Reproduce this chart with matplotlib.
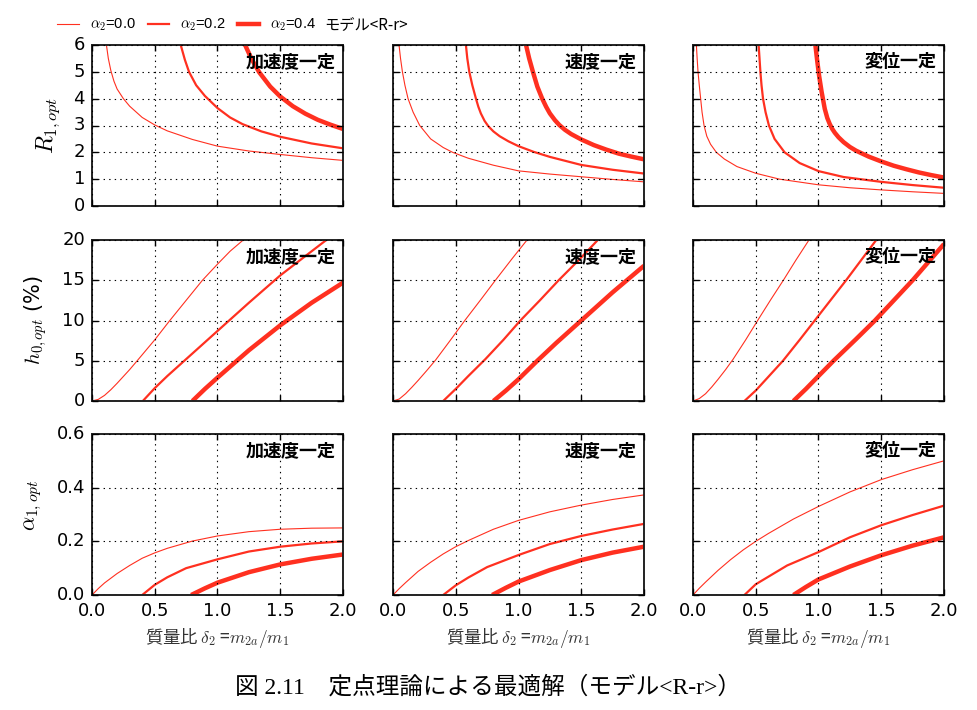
import matplotlib
matplotlib.use('Agg')
import matplotlib.pyplot as plt
from matplotlib.lines import Line2D

plt.style.use('classic')
plt.rcParams['font.family'] = ['DejaVu Sans', 'Noto Sans CJK JP']
plt.rcParams['mathtext.fontset'] = 'cm'
plt.rcParams['figure.facecolor'] = 'white'
plt.rcParams['savefig.facecolor'] = 'white'

# ---------------- data ----------------
conditions = ['加速度一定', '速度一定', '変位一定']
alpha2_labels = [r'$\alpha_2$=0.0', r'$\alpha_2$=0.2', r'$\alpha_2$=0.4']
x_ticks = [0.0, 0.5, 1.0, 1.5, 2.0]

# Row 1: R_{1,opt}
R_acc_a0_x = [0.115, 0.13, 0.15, 0.175, 0.2, 0.25, 0.3, 0.4, 0.5, 0.6, 0.8, 1.0, 1.25, 1.5, 1.75, 2.0]
R_acc_a0_y = [6.0, 5.5, 5.05, 4.65, 4.36, 4.0, 3.72, 3.3, 3.02, 2.8, 2.48, 2.23, 2.05, 1.92, 1.8, 1.7]
R_acc_a2_x = [0.707, 0.74, 0.773, 0.83, 0.9, 1.0, 1.1, 1.2, 1.35, 1.5, 1.75, 2.0]
R_acc_a2_y = [6.0, 5.45, 5.0, 4.5, 4.1, 3.65, 3.3, 3.05, 2.78, 2.58, 2.33, 2.15]
R_acc_a4_x = [1.22, 1.27, 1.333, 1.42, 1.5, 1.6, 1.7, 1.8, 1.9, 2.0]
R_acc_a4_y = [6.0, 5.49, 4.98, 4.45, 4.08, 3.72, 3.44, 3.21, 3.03, 2.87]

R_vel_a0_x = [0.048, 0.06, 0.075, 0.095, 0.12, 0.16, 0.213, 0.3, 0.4, 0.475, 0.6, 0.8, 1.0, 1.25, 1.5, 1.75, 2.0]
R_vel_a0_y = [6.0, 5.5, 5.0, 4.5, 4.0, 3.5, 3.0, 2.5, 2.18, 2.0, 1.78, 1.52, 1.31, 1.19, 1.09, 0.99, 0.9]
R_vel_a2_x = [0.581, 0.592, 0.608, 0.632, 0.661, 0.68, 0.7, 0.73, 0.76, 0.8, 0.85, 0.92, 1.0, 1.12, 1.25, 1.5, 1.75, 2.0]
R_vel_a2_y = [6.0, 5.5, 5.0, 4.5, 4.0, 3.7, 3.45, 3.17, 2.97, 2.78, 2.6, 2.41, 2.23, 2.02, 1.83, 1.53, 1.35, 1.21]
R_vel_a4_x = [1.06, 1.085, 1.115, 1.15, 1.187, 1.22, 1.25, 1.29, 1.325, 1.37, 1.42, 1.5, 1.6, 1.7, 1.8, 1.9, 2.0]
R_vel_a4_y = [6.0, 5.5, 5.0, 4.45, 4.02, 3.7, 3.45, 3.2, 3.02, 2.84, 2.68, 2.48, 2.27, 2.1, 1.95, 1.84, 1.74]

R_dis_a0_x = [0.027, 0.033, 0.04, 0.05, 0.061, 0.072, 0.088, 0.11, 0.14, 0.186, 0.25, 0.35, 0.5, 0.69, 1.0, 1.25, 1.5, 1.75, 2.0]
R_dis_a0_y = [6.0, 5.5, 5.0, 4.5, 4.0, 3.5, 3.0, 2.6, 2.3, 2.0, 1.75, 1.47, 1.22, 1.0, 0.79, 0.68, 0.6, 0.53, 0.47]
R_dis_a2_x = [0.523, 0.53, 0.537, 0.546, 0.558, 0.578, 0.605, 0.65, 0.73, 0.85, 1.0, 1.2, 1.4, 1.5, 1.75, 2.0]
R_dis_a2_y = [6.0, 5.5, 5.0, 4.5, 4.0, 3.5, 3.0, 2.5, 2.0, 1.6, 1.3, 1.08, 0.96, 0.9, 0.78, 0.68]
R_dis_a4_x = [0.975, 0.99, 1.005, 1.025, 1.05, 1.07, 1.09, 1.11, 1.13, 1.16, 1.2, 1.25, 1.3, 1.4, 1.5, 1.6, 1.7, 1.8, 1.9, 2.0]
R_dis_a4_y = [6.0, 5.4, 4.85, 4.25, 3.62, 3.28, 3.05, 2.87, 2.73, 2.56, 2.38, 2.2, 2.06, 1.84, 1.66, 1.5, 1.37, 1.25, 1.15, 1.06]

# Row 2: h_{0,opt} (%)
h_acc_a0_x = [0.0, 0.05, 0.1, 0.15, 0.2, 0.3, 0.36, 0.5, 0.62, 0.75, 0.88, 1.0, 1.1, 1.205]
h_acc_a0_y = [0.0, 0.2, 0.7, 1.4, 2.2, 3.9, 5.0, 7.6, 10.0, 12.5, 15.0, 17.0, 18.6, 20.0]
h_acc_a2_x = [0.405, 0.5, 0.6, 0.75, 0.9, 1.0, 1.25, 1.5, 1.75, 1.867]
h_acc_a2_y = [0.0, 1.6, 3.1, 5.2, 7.3, 8.7, 12.2, 15.6, 18.6, 20.0]
h_acc_a4_x = [0.8, 0.9, 1.0, 1.25, 1.5, 1.75, 2.0]
h_acc_a4_y = [0.0, 1.5, 2.9, 6.3, 9.4, 12.2, 14.7]

h_vel_a0_x = [0.0, 0.05, 0.1, 0.15, 0.2, 0.27, 0.34, 0.45, 0.572, 0.7, 0.816, 0.95, 1.068]
h_vel_a0_y = [0.0, 0.25, 0.9, 1.7, 2.55, 3.8, 5.1, 7.4, 10.0, 12.6, 15.0, 17.7, 20.0]
h_vel_a2_x = [0.4, 0.5, 0.6, 0.736, 0.88, 1.015, 1.17, 1.32, 1.48, 1.632]
h_vel_a2_y = [0.0, 1.5, 3.1, 5.2, 7.6, 10.0, 12.5, 15.0, 17.5, 20.0]
h_vel_a4_x = [0.8, 0.9, 1.0, 1.15, 1.3, 1.5, 1.75, 2.0]
h_vel_a4_y = [0.0, 1.3, 2.7, 5.0, 7.2, 10.0, 13.5, 16.8]

h_dis_a0_x = [0.0, 0.05, 0.1, 0.15, 0.2, 0.26, 0.32, 0.42, 0.515, 0.62, 0.72, 0.82, 0.924]
h_dis_a0_y = [0.0, 0.3, 0.9, 1.75, 2.7, 3.9, 5.2, 7.6, 10.0, 12.6, 15.0, 17.5, 20.0]
h_dis_a2_x = [0.41, 0.5, 0.6, 0.717, 0.85, 0.97, 1.1, 1.22, 1.34, 1.46]
h_dis_a2_y = [0.0, 1.3, 3.0, 5.0, 7.6, 10.0, 12.6, 15.0, 17.5, 20.0]
h_dis_a4_x = [0.8, 0.9, 1.0, 1.12, 1.3, 1.45, 1.6, 1.75, 1.9, 2.0]
h_dis_a4_y = [0.0, 1.5, 3.1, 5.0, 7.7, 10.0, 12.5, 15.0, 17.7, 19.5]

# Row 3: alpha_{1,opt}
a_acc_a0_x = [0.0, 0.05, 0.1, 0.2, 0.3, 0.4, 0.5, 0.6, 0.8, 1.0, 1.25, 1.5, 1.75, 2.0]
a_acc_a0_y = [0.0, 0.024, 0.045, 0.08, 0.11, 0.137, 0.157, 0.174, 0.201, 0.22, 0.236, 0.245, 0.249, 0.25]
a_acc_a2_x = [0.4, 0.5, 0.6, 0.75, 1.0, 1.25, 1.5, 1.75, 2.0]
a_acc_a2_y = [0.0, 0.038, 0.066, 0.1, 0.133, 0.162, 0.18, 0.192, 0.2]
a_acc_a4_x = [0.79, 0.9, 1.0, 1.25, 1.5, 1.75, 2.0]
a_acc_a4_y = [0.0, 0.025, 0.046, 0.085, 0.114, 0.135, 0.151]

a_vel_a0_x = [0.0, 0.05, 0.1, 0.2, 0.3, 0.4, 0.5, 0.6, 0.8, 1.0, 1.25, 1.5, 1.75, 2.0]
a_vel_a0_y = [0.0, 0.024, 0.046, 0.088, 0.122, 0.153, 0.18, 0.203, 0.245, 0.278, 0.31, 0.335, 0.356, 0.373]
a_vel_a2_x = [0.4, 0.5, 0.6, 0.75, 1.0, 1.25, 1.5, 1.75, 2.0]
a_vel_a2_y = [0.0, 0.036, 0.065, 0.104, 0.149, 0.19, 0.22, 0.244, 0.265]
a_vel_a4_x = [0.79, 0.9, 1.0, 1.25, 1.5, 1.75, 2.0]
a_vel_a4_y = [0.0, 0.027, 0.05, 0.093, 0.13, 0.158, 0.18]

a_dis_a0_x = [0.0, 0.05, 0.1, 0.2, 0.3, 0.4, 0.5, 0.6, 0.8, 1.0, 1.25, 1.5, 1.75, 2.0]
a_dis_a0_y = [0.0, 0.025, 0.048, 0.092, 0.132, 0.168, 0.2, 0.229, 0.283, 0.33, 0.384, 0.43, 0.467, 0.5]
a_dis_a2_x = [0.41, 0.5, 0.6, 0.75, 1.0, 1.25, 1.5, 1.75, 2.0]
a_dis_a2_y = [0.0, 0.04, 0.068, 0.11, 0.16, 0.215, 0.26, 0.298, 0.333]
a_dis_a4_x = [0.8, 0.9, 1.0, 1.25, 1.5, 1.75, 2.0]
a_dis_a4_y = [0.0, 0.03, 0.058, 0.106, 0.148, 0.184, 0.215]

# ---------------- layout / style ----------------
line_color = '#ff3020'
line_widths = [0.8, 1.6, 3.2]

rows = [
    [[(R_acc_a0_x, R_acc_a0_y), (R_acc_a2_x, R_acc_a2_y), (R_acc_a4_x, R_acc_a4_y)],
     [(R_vel_a0_x, R_vel_a0_y), (R_vel_a2_x, R_vel_a2_y), (R_vel_a4_x, R_vel_a4_y)],
     [(R_dis_a0_x, R_dis_a0_y), (R_dis_a2_x, R_dis_a2_y), (R_dis_a4_x, R_dis_a4_y)]],
    [[(h_acc_a0_x, h_acc_a0_y), (h_acc_a2_x, h_acc_a2_y), (h_acc_a4_x, h_acc_a4_y)],
     [(h_vel_a0_x, h_vel_a0_y), (h_vel_a2_x, h_vel_a2_y), (h_vel_a4_x, h_vel_a4_y)],
     [(h_dis_a0_x, h_dis_a0_y), (h_dis_a2_x, h_dis_a2_y), (h_dis_a4_x, h_dis_a4_y)]],
    [[(a_acc_a0_x, a_acc_a0_y), (a_acc_a2_x, a_acc_a2_y), (a_acc_a4_x, a_acc_a4_y)],
     [(a_vel_a0_x, a_vel_a0_y), (a_vel_a2_x, a_vel_a2_y), (a_vel_a4_x, a_vel_a4_y)],
     [(a_dis_a0_x, a_dis_a0_y), (a_dis_a2_x, a_dis_a2_y), (a_dis_a4_x, a_dis_a4_y)]],
]
y_limits = [(0, 6), (0, 20), (0, 0.6)]
y_ticks = [[0, 1, 2, 3, 4, 5, 6], [0, 5, 10, 15, 20], [0.0, 0.2, 0.4, 0.6]]
y_tick_labels = [['0', '1', '2', '3', '4', '5', '6'], ['0', '5', '10', '15', '20'], ['0.0', '0.2', '0.4', '0.6']]
x_tick_labels = ['0.0', '0.5', '1.0', '1.5', '2.0']
y_labels = [r'$R_{1,opt}$', r'$h_{0,opt}$ (%)', r'$\alpha_{1,opt}$']
y_label_sizes = [17, 15, 16]
y_label_pos = [(-0.12, 0.5), (-0.17, 0.5), (-0.19, 0.56)]

fig = plt.figure(figsize=(9.78, 7.10), dpi=100)
W, H = 978.0, 710.0
col_left = [92, 393, 693]
row_top = [45, 240, 434]
ax_w, ax_h = 251, 161

for r in range(3):
    for c in range(3):
        ax = fig.add_axes([col_left[c] / W, 1 - (row_top[r] + ax_h) / H, ax_w / W, ax_h / H])
        for k, (xs, ys) in enumerate(rows[r][c]):
            ax.plot(xs, ys, color=line_color, lw=line_widths[k], solid_capstyle='butt',
                    solid_joinstyle='round')
        ax.set_xlim(0, 2)
        ax.set_ylim(*y_limits[r])
        ax.set_xticks(x_ticks)
        ax.set_yticks(y_ticks[r])
        ax.grid(True, color='black', linestyle=':', linewidth=0.8)
        ax.tick_params(direction='in', length=4, width=1, labelsize=13, top=True, right=True, pad=5)
        for s in ax.spines.values():
            s.set_linewidth(1.4)
            s.set_color('#222222')
        if c == 0:
            ax.set_yticklabels(y_tick_labels[r])
            ax.set_ylabel(y_labels[r], fontsize=y_label_sizes[r])
            ax.yaxis.set_label_coords(*y_label_pos[r])
        else:
            ax.set_yticklabels([])
        if r == 2:
            ax.set_xticklabels(x_tick_labels)
            ax.set_xlabel(r'質量比 $\delta_2$ =$m_{2a}/m_1$', fontsize=12.5, color='#333333',
                          family='Noto Sans CJK JP')
            ax.xaxis.set_label_coords(0.5, -0.19)
        else:
            ax.set_xticklabels([])
        ax.text(0.972, 0.895, conditions[c], transform=ax.transAxes, ha='right', va='center',
                fontsize=13, fontweight='bold', family=['Noto Sans CJK JP'])

handles = [Line2D([], [], color=line_color, lw=w) for w in line_widths]
fig.legend(handles, alpha2_labels, loc='center left', bbox_to_anchor=(53 / W, 1 - 25 / H),
           ncol=3, frameon=False, prop={'family': 'Liberation Sans', 'size': 10.5},
           handlelength=2.1, handletextpad=0.45, columnspacing=0.5, borderaxespad=0,
           borderpad=0)
fig.text(324 / W, 1 - 25 / H, 'モデル<R-r>', ha='left', va='center', fontsize=11,
         family=['Noto Sans CJK JP', 'DejaVu Sans'])

fig.text(488 / W, 1 - 687 / H, '図 2.11　定点理論による最適解（モデル<R-r>）', ha='center', va='center',
         fontsize=17, family=['Liberation Serif', 'Noto Sans CJK JP'])

fig.savefig('out.png', dpi=100)
